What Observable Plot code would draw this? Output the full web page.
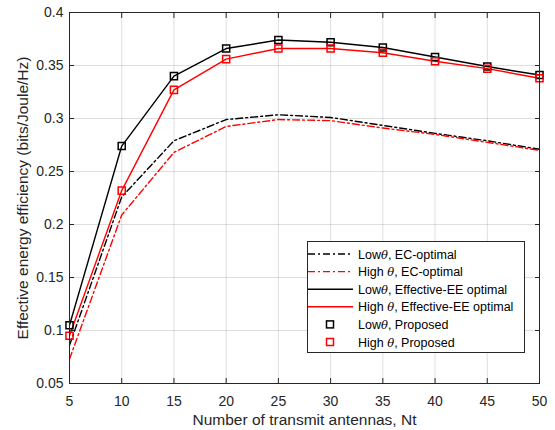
<!DOCTYPE html>
<html><head><meta charset="utf-8">
<script src="https://cdn.jsdelivr.net/npm/d3@7"></script>
<script src="https://cdn.jsdelivr.net/npm/@observablehq/plot@0.6"></script>
<style>
body{margin:0;background:#fff;font-family:"Liberation Sans",Arial,sans-serif;}
#wrap{position:relative;width:555px;height:430px;}
#legend{position:absolute;left:307px;top:241px;}
</style></head>
<body><div id="wrap"><div id="chart"></div><svg id="legend" width="218" height="112"></svg></div>
<script>
const nt = [5, 10, 15, 20, 25, 30, 35, 40, 45, 50];
const lowEC = [0.086, 0.226, 0.279, 0.299, 0.3035, 0.301, 0.2935, 0.286, 0.279, 0.271];
const highEC = [0.073, 0.209, 0.268, 0.2925, 0.299, 0.298, 0.291, 0.285, 0.2775, 0.270];
const lowEE = [0.105, 0.274, 0.340, 0.366, 0.374, 0.372, 0.367, 0.358, 0.349, 0.341];
const highEE = [0.095, 0.232, 0.327, 0.356, 0.366, 0.366, 0.362, 0.354, 0.347, 0.338];
const lowProposed = [0.105, 0.274, 0.340, 0.366, 0.374, 0.372, 0.367, 0.358, 0.349, 0.341];
const highProposed = [0.095, 0.232, 0.327, 0.356, 0.366, 0.366, 0.362, 0.354, 0.347, 0.338];
const xTicks = [5, 10, 15, 20, 25, 30, 35, 40, 45, 50];
const yTicks = [0.05, 0.1, 0.15, 0.2, 0.25, 0.3, 0.35, 0.4];
const yTickLabels = ["0.05", "0.1", "0.15", "0.2", "0.25", "0.3", "0.35", "0.4"];
const xLabel = "Number of transmit antennas, Nt";
const yLabel = "Effective energy efficiency (bits/Joule/Hz)";
const legendItems = [
  {pre: "Low", theta: "θ", post: ", EC-optimal", color: "#000", kind: "dashdot"},
  {pre: "High ", theta: "θ", post: ", EC-optimal", color: "#ff0000", kind: "dashdot"},
  {pre: "Low", theta: "θ", post: ", Effective-EE optimal", color: "#000", kind: "solid"},
  {pre: "High ", theta: "θ", post: ", Effective-EE optimal", color: "#ff0000", kind: "solid"},
  {pre: "Low", theta: "θ", post: ", Proposed", color: "#000", kind: "marker"},
  {pre: "High ", theta: "θ", post: ", Proposed", color: "#ff0000", kind: "marker"}
];

const toRows = (ys) => nt.map((x, i) => ({x, y: ys[i]}));
const dash = "7,3,2,3";
const axisColor = "#262626";

const chart = Plot.plot({
  width: 555,
  height: 430,
  marginLeft: 69,
  marginRight: 16,
  marginTop: 12,
  marginBottom: 47,
  style: {fontFamily: "'Liberation Sans', Arial, sans-serif", fontSize: "14px", color: axisColor, background: "#fff"},
  x: {domain: [5, 50]},
  y: {domain: [0.05, 0.4]},
  marks: [
    Plot.gridX(xTicks, {stroke: "#000", strokeOpacity: 0.13}),
    Plot.gridY(yTicks, {stroke: "#000", strokeOpacity: 0.13}),
    Plot.line(toRows(lowEC), {x: "x", y: "y", stroke: "#000", strokeWidth: 1.4, strokeDasharray: dash}),
    Plot.line(toRows(highEC), {x: "x", y: "y", stroke: "#ff0000", strokeWidth: 1.4, strokeDasharray: dash}),
    Plot.line(toRows(lowEE), {x: "x", y: "y", stroke: "#000", strokeWidth: 1.4}),
    Plot.line(toRows(highEE), {x: "x", y: "y", stroke: "#ff0000", strokeWidth: 1.4}),
    Plot.dot(toRows(lowProposed), {x: "x", y: "y", symbol: "square", r: 4, stroke: "#000", strokeWidth: 1.5, fill: "none"}),
    Plot.dot(toRows(highProposed), {x: "x", y: "y", symbol: "square", r: 4, stroke: "#ff0000", strokeWidth: 1.5, fill: "none"}),
    Plot.frame({stroke: axisColor, strokeWidth: 1}),
    Plot.axisX(xTicks, {anchor: "bottom", tickSize: -5, tickPadding: 18, label: null, stroke: axisColor, fill: axisColor, fontSize: 14}),
    Plot.axisX(xTicks, {anchor: "top", tickSize: -5, tickFormat: () => "", label: null, stroke: axisColor}),
    Plot.axisY(yTicks, {anchor: "left", tickSize: -5, tickPadding: 11, tickFormat: (d, i) => yTickLabels[i], label: null, stroke: axisColor, fill: axisColor, fontSize: 14}),
    Plot.axisY(yTicks, {anchor: "right", tickSize: -5, tickFormat: () => "", label: null, stroke: axisColor}),
    Plot.text([xLabel], {frameAnchor: "bottom", lineAnchor: "middle", textAnchor: "middle", dy: 37, text: d => d, fontSize: 15.5, fill: axisColor}),
    Plot.text([yLabel], {frameAnchor: "left", lineAnchor: "middle", textAnchor: "middle", dx: -46, rotate: -90, text: d => d, fontSize: 15.5, fill: axisColor})
  ]
});
document.getElementById("chart").appendChild(chart);

// legend
const lg = d3.select("#legend");
lg.append("rect").attr("x", 0.5).attr("y", 0.5).attr("width", 217).attr("height", 111)
  .attr("fill", "#fff").attr("stroke", axisColor).attr("stroke-width", 1);
legendItems.forEach((it, i) => {
  const cy = 13 + i * 17.6;
  if (it.kind === "marker") {
    lg.append("rect").attr("x", 19.5).attr("y", cy - 3.5).attr("width", 7).attr("height", 7)
      .attr("fill", "none").attr("stroke", it.color).attr("stroke-width", 1.5);
  } else {
    lg.append("line").attr("x1", 1).attr("x2", 46).attr("y1", cy).attr("y2", cy)
      .attr("stroke", it.color).attr("stroke-width", 1.4)
      .attr("stroke-dasharray", it.kind === "dashdot" ? dash : null);
  }
  const t = lg.append("text").attr("x", 51).attr("y", cy).attr("dy", "0.36em")
    .attr("font-size", 12.5).attr("fill", "#000")
    .attr("font-family", "'Liberation Sans', Arial, sans-serif");
  t.append("tspan").text(it.pre);
  t.append("tspan").attr("font-family", "'DejaVu Serif', serif").attr("font-style", "italic").attr("font-size", 11.5).text(it.theta);
  t.append("tspan").text(it.post);
});
</script>
</body></html>
